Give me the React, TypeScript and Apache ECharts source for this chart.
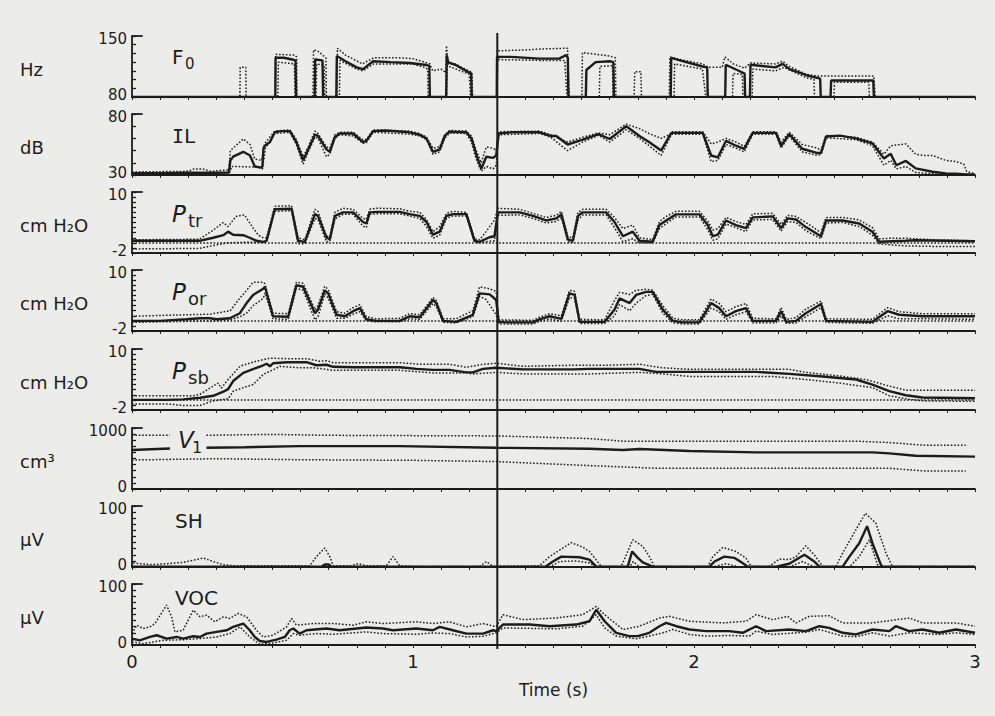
import React, { useEffect, useRef } from "react";
import * as echarts from "echarts";

// ---------- data (time in s, value) ----------
const X_TICK_LABELS = [0, 1, 2, 3];
const MARKER_TIME = 1.3;

const F0_MEAN = [[0,80],[0.51,80],[0.511,125],[0.54,125],[0.57,123],[0.582,122],[0.584,80],[0.65,80],[0.652,123],[0.678,122],[0.68,80],[0.727,80],[0.729,127],[0.76,121],[0.80,114],[0.822,112],[0.858,121],[0.92,120],[0.99,119],[1.04,117],[1.058,116],[1.06,80],[1.118,80],[1.12,128],[1.125,120],[1.15,117],[1.20,108],[1.207,107],[1.209,80],[1.298,80],[1.299,126],[1.35,126],[1.45,124],[1.52,124],[1.545,128],[1.551,125],[1.553,80],[1.615,80],[1.617,111],[1.65,120],[1.70,121],[1.713,120],[1.715,80],[1.917,80],[1.919,125],[1.95,122],[2.03,115],[2.047,114],[2.049,80],[2.111,80],[2.113,117],[2.18,107],[2.182,80],[2.199,80],[2.201,117],[2.29,114],[2.315,118],[2.34,112],[2.40,105],[2.449,101],[2.451,80],[2.486,80],[2.488,99],[2.55,99],[2.638,99],[2.640,80],[3,80]];
const F0_UPPER = [[0,80],[0.384,80],[0.385,114],[0.405,114],[0.406,80],[0.510,80],[0.511,129],[0.58,128],[0.586,126],[0.587,80],[0.644,80],[0.646,134],[0.66,133],[0.69,125],[0.692,80],[0.729,80],[0.731,136],[0.76,128],[0.82,118],[0.86,125],[0.95,125],[1.0,124],[1.04,120],[1.06,118],[1.07,110],[1.10,112],[1.117,108],[1.119,139],[1.125,118],[1.15,118],[1.205,109],[1.21,108],[1.212,80],[1.298,80],[1.300,133],[1.40,134],[1.45,135],[1.55,136],[1.556,80],[1.601,80],[1.603,131],[1.70,127],[1.72,125],[1.722,80],[1.787,80],[1.789,109],[1.811,109],[1.813,80],[1.912,80],[1.914,126],[1.95,123],[2.03,118],[2.05,114],[2.10,114],[2.11,126],[2.14,118],[2.18,113],[2.20,119],[2.29,118],[2.315,121],[2.34,115],[2.40,106],[2.44,104],[2.50,104],[2.64,104],[2.645,80],[3,80]];
const F0_LOWER = [[0,80],[0.519,80],[0.521,120],[0.578,118],[0.580,80],[0.655,80],[0.657,118],[0.684,116],[0.686,80],[0.738,80],[0.740,122],[0.80,112],[0.822,110],[0.86,118],[1.0,118],[1.04,114],[1.052,112],[1.054,80],[1.12,80],[1.122,116],[1.20,106],[1.205,80],[1.299,80],[1.301,123],[1.45,122],[1.54,122],[1.548,80],[1.663,80],[1.665,115],[1.71,116],[1.712,80],[1.929,80],[1.931,118],[2.03,112],[2.042,80],[2.137,80],[2.139,107],[2.172,106],[2.174,80],[2.207,80],[2.209,112],[2.29,110],[2.32,114],[2.40,102],[2.427,100],[2.429,80],[2.498,80],[2.500,97],[2.622,97],[2.624,80],[3,80]];

const IL_MEAN = [[0,31.5],[0.1,31.5],[0.2,31.8],[0.3,31.8],[0.345,32],[0.35,42],[0.36,45],[0.396,49],[0.42,46],[0.437,37],[0.461,36],[0.464,37],[0.468,52],[0.473,54],[0.491,57],[0.508,65],[0.53,66],[0.562,66],[0.585,57],[0.609,42],[0.627,51],[0.651,63],[0.662,62],[0.692,51],[0.704,49],[0.722,61],[0.739,64],[0.787,64],[0.822,57],[0.834,58],[0.858,66],[0.90,66.5],[0.988,65],[1.024,63],[1.048,60],[1.071,49],[1.095,51],[1.113,62],[1.13,65.5],[1.19,65],[1.208,60],[1.225,47],[1.243,35],[1.261,45],[1.285,44],[1.296,46],[1.305,64],[1.35,65],[1.45,65],[1.49,62],[1.51,62],[1.55,55],[1.604,59],[1.66,63.5],[1.70,59.5],[1.759,70],[1.806,62],[1.84,57],[1.883,50],[1.913,62],[1.92,64.5],[2.031,64.5],[2.061,46],[2.085,44.5],[2.114,58],[2.149,54],[2.179,51.5],[2.209,64.5],[2.292,64.5],[2.310,54],[2.339,63.5],[2.385,51.5],[2.44,48],[2.452,48],[2.470,61.5],[2.52,62.3],[2.576,60],[2.635,56],[2.676,43.5],[2.70,47.5],[2.72,38],[2.754,41.5],[2.789,35.4],[2.849,32.7],[2.896,31.3],[2.932,31],[2.967,30.5],[3,30.5]];
const IL_UPPER = [[0,32.5],[0.2,33],[0.22,35],[0.25,35],[0.28,33],[0.33,34],[0.345,34],[0.35,50],[0.396,59.6],[0.42,55],[0.437,43],[0.461,42],[0.464,45],[0.473,56],[0.508,66],[0.562,67],[0.585,59],[0.609,45],[0.627,53],[0.651,66],[0.662,64],[0.692,53],[0.704,52],[0.722,63],[0.739,65],[0.787,65],[0.822,59],[0.834,59],[0.858,67],[0.988,66],[1.024,64],[1.048,61],[1.071,52],[1.095,53],[1.113,63],[1.13,66.5],[1.19,66],[1.208,62],[1.225,50],[1.243,40],[1.261,53],[1.285,52],[1.296,50],[1.305,65.5],[1.45,66],[1.49,63],[1.55,57],[1.604,61],[1.66,64.5],[1.70,63],[1.759,71.7],[1.806,68],[1.84,64],[1.883,60],[1.913,63],[1.92,65.5],[2.031,65.5],[2.061,55.5],[2.085,57],[2.114,60],[2.149,57],[2.179,53.5],[2.209,65.5],[2.292,65.5],[2.310,57],[2.339,65],[2.385,55],[2.44,52],[2.452,50],[2.470,62.5],[2.576,61],[2.635,57],[2.676,47],[2.70,54],[2.754,55.5],[2.789,47],[2.82,46],[2.849,46],[2.896,42],[2.932,41],[2.96,39],[2.97,33],[3,31]];
const IL_LOWER = [[0,30.5],[0.345,30.5],[0.355,37],[0.45,36.5],[0.461,35],[0.464,35],[0.475,52],[0.508,64],[0.562,65],[0.585,55],[0.609,39],[0.627,49],[0.651,61],[0.662,60],[0.692,45],[0.704,47],[0.722,60],[0.739,63],[0.787,62],[0.822,56],[0.834,56.5],[0.858,65],[0.988,63.5],[1.024,62],[1.048,59],[1.071,47],[1.095,49],[1.113,60],[1.13,64.5],[1.19,64],[1.208,57],[1.225,43],[1.243,33],[1.261,37],[1.285,35],[1.296,38],[1.305,63],[1.45,64],[1.49,61],[1.55,50],[1.604,57],[1.66,62.5],[1.70,57],[1.759,67],[1.806,60],[1.84,54],[1.883,46],[1.913,60],[1.92,63.5],[2.031,63.5],[2.061,41],[2.085,42],[2.114,55],[2.149,52],[2.179,49],[2.209,63.5],[2.292,63.5],[2.310,52],[2.339,62],[2.385,49],[2.44,46],[2.452,47],[2.470,60.5],[2.576,59],[2.635,54],[2.676,38],[2.70,42],[2.72,35],[2.754,37],[2.789,32],[2.849,31],[2.896,30.5],[3,30.3]];

const PTR_MEAN = [[0,0.4],[0.24,0.4],[0.289,1.0],[0.325,1.5],[0.342,2.2],[0.36,1.6],[0.396,1.5],[0.419,1.0],[0.443,0.4],[0.467,0.2],[0.479,0.4],[0.508,6.6],[0.568,6.7],[0.591,0.4],[0.615,0.2],[0.651,5.65],[0.662,5.3],[0.692,1.0],[0.704,0.7],[0.722,5.3],[0.751,6.0],[0.787,6.0],[0.822,4.1],[0.834,3.8],[0.846,6.0],[0.87,6.1],[0.953,6.1],[0.988,5.65],[1.024,5.3],[1.048,4.1],[1.071,1.6],[1.095,2.2],[1.119,5.3],[1.142,5.65],[1.19,5.65],[1.219,0.4],[1.237,0.2],[1.272,1.1],[1.29,1.3],[1.302,6.0],[1.38,6.0],[1.427,5.3],[1.474,4.4],[1.51,4.8],[1.528,5.6],[1.551,0.7],[1.569,0.4],[1.587,5.3],[1.604,6.0],[1.687,6.0],[1.717,4.1],[1.747,1.3],[1.782,2.2],[1.806,0.4],[1.853,0.2],[1.877,3.5],[1.901,4.4],[1.936,5.6],[2.019,5.6],[2.049,3.5],[2.067,1.3],[2.085,1.6],[2.114,4.4],[2.149,3.5],[2.185,2.9],[2.209,5.0],[2.28,5.2],[2.31,2.9],[2.333,4.8],[2.363,4.6],[2.398,3.1],[2.452,1.3],[2.47,4.4],[2.529,4.4],[2.588,3.8],[2.635,2.2],[2.659,0.2],[2.754,0.4],[2.789,0.5],[3.0,0.3]];
const PTR_UPPER = [[0,0.6],[0.24,0.7],[0.289,2.5],[0.325,4.0],[0.342,3.2],[0.37,5.2],[0.40,5.5],[0.43,3.0],[0.45,1.5],[0.467,1.0],[0.479,1.0],[0.508,7.2],[0.568,7.3],[0.591,1.0],[0.615,0.6],[0.651,6.6],[0.662,6.2],[0.692,1.3],[0.704,1.2],[0.722,6.0],[0.751,6.8],[0.787,6.6],[0.822,4.8],[0.834,4.6],[0.846,6.6],[0.87,6.8],[0.953,6.7],[0.988,6.2],[1.024,6.0],[1.048,4.6],[1.071,2.2],[1.095,3.2],[1.119,5.8],[1.142,6.2],[1.19,6.0],[1.219,0.8],[1.237,0.6],[1.26,2.2],[1.29,4.5],[1.302,6.8],[1.38,6.6],[1.427,5.8],[1.474,5.0],[1.51,5.4],[1.528,6.2],[1.551,1.2],[1.569,1.0],[1.587,6.0],[1.604,6.6],[1.687,6.6],[1.717,5.0],[1.747,2.8],[1.782,3.5],[1.806,1.0],[1.853,0.6],[1.877,4.2],[1.901,5.2],[1.936,6.2],[2.019,6.2],[2.049,4.3],[2.067,2.5],[2.085,2.8],[2.114,5.0],[2.149,4.2],[2.185,3.6],[2.209,5.7],[2.28,5.8],[2.31,3.6],[2.333,5.4],[2.363,5.2],[2.398,4.0],[2.452,2.0],[2.47,5.0],[2.529,5.0],[2.588,4.5],[2.635,3.0],[2.659,0.8],[2.70,0.9],[2.754,0.9],[2.85,0.6],[3.0,0.4]];
const PTR_LOWER = [[0,-1.2],[0.24,-1.1],[0.30,-0.4],[0.34,0],[0.40,0.1],[0.45,0.1],[0.479,0.2],[0.508,6.2],[0.568,6.3],[0.591,-0.2],[0.615,-0.2],[0.651,4.8],[0.662,4.6],[0.692,0.2],[0.704,0.3],[0.722,4.7],[0.751,5.6],[0.787,5.6],[0.822,3.3],[0.834,3.0],[0.846,5.6],[0.87,5.7],[0.953,5.7],[0.988,5.3],[1.024,4.8],[1.048,3.2],[1.071,0.9],[1.095,1.5],[1.119,4.8],[1.142,5.3],[1.19,5.3],[1.219,0.1],[1.237,0.0],[1.27,0.3],[1.29,0.4],[1.302,5.4],[1.38,5.5],[1.427,4.8],[1.474,3.9],[1.51,4.2],[1.528,5.0],[1.551,0.2],[1.569,0.1],[1.587,4.5],[1.604,5.5],[1.687,5.5],[1.717,3.0],[1.747,0.2],[1.782,0.8],[1.806,0.0],[1.853,0.0],[1.877,2.8],[1.901,3.8],[1.936,5.1],[2.019,5.1],[2.049,2.6],[2.067,0.5],[2.085,0.8],[2.114,3.7],[2.149,3.0],[2.185,2.2],[2.209,4.5],[2.28,4.6],[2.31,2.3],[2.333,4.2],[2.363,4.0],[2.398,2.4],[2.452,0.8],[2.47,3.9],[2.529,4.0],[2.588,3.2],[2.635,1.5],[2.659,-0.2],[2.70,-0.4],[2.754,-0.6],[2.85,-0.7],[3.0,-0.7]];

const POR_MEAN = [[0,0.0],[0.1,0.0],[0.194,0.3],[0.242,0.5],[0.277,0.5],[0.301,0.3],[0.348,0.5],[0.384,1.5],[0.408,3.5],[0.431,5.1],[0.467,6.3],[0.473,6.7],[0.502,0.9],[0.556,0.8],[0.585,7.0],[0.609,6.7],[0.651,1.5],[0.662,2.2],[0.686,6.0],[0.698,5.4],[0.728,1.2],[0.757,0.9],[0.787,1.9],[0.811,2.5],[0.834,0.3],[0.87,0.0],[0.953,0.0],[0.988,0.9],[1.024,0.7],[1.071,4.1],[1.083,3.5],[1.107,0.0],[1.154,-0.2],[1.213,1.2],[1.237,5.4],[1.273,5.2],[1.296,4.1],[1.305,-0.2],[1.332,-0.3],[1.427,-0.3],[1.45,0.3],[1.486,0.9],[1.528,0.4],[1.557,5.4],[1.575,5.1],[1.593,-0.2],[1.682,-0.2],[1.717,2.2],[1.735,4.4],[1.771,3.5],[1.794,5.1],[1.83,5.7],[1.853,5.7],[1.889,2.2],[1.925,0.0],[1.96,-0.3],[2.019,-0.3],[2.061,3.5],[2.09,2.5],[2.114,0.9],[2.149,1.9],[2.185,2.5],[2.209,0.0],[2.292,0.0],[2.31,1.9],[2.328,-0.2],[2.363,0.0],[2.398,1.5],[2.452,3.3],[2.47,0.0],[2.635,-0.2],[2.689,1.9],[2.73,1.2],[2.813,0.9],[3.0,0.9]];
const POR_UPPER = [[0,0.9],[0.194,1.2],[0.277,1.3],[0.35,2.0],[0.384,4.5],[0.408,6.0],[0.431,7.6],[0.467,7.6],[0.473,7.3],[0.502,1.5],[0.556,1.4],[0.585,7.6],[0.609,7.4],[0.651,2.2],[0.662,3.0],[0.686,6.8],[0.698,6.2],[0.728,1.8],[0.757,1.5],[0.787,2.6],[0.811,3.2],[0.834,0.8],[0.87,0.4],[0.953,0.5],[0.988,1.4],[1.024,1.2],[1.071,4.6],[1.083,4.0],[1.107,0.4],[1.154,0.4],[1.213,2.0],[1.237,6.7],[1.273,6.3],[1.296,5.8],[1.305,0.2],[1.427,0.1],[1.45,0.7],[1.486,1.4],[1.528,1.0],[1.557,6.0],[1.575,5.8],[1.593,0.3],[1.682,0.2],[1.717,4.0],[1.735,5.6],[1.771,5.2],[1.794,6.0],[1.83,6.2],[1.853,6.0],[1.889,3.0],[1.925,0.5],[1.96,0.2],[2.019,0.2],[2.061,4.3],[2.09,3.4],[2.114,1.8],[2.149,2.8],[2.185,3.4],[2.209,0.5],[2.292,0.4],[2.31,2.6],[2.328,0.3],[2.363,0.6],[2.398,2.3],[2.452,3.9],[2.47,0.4],[2.635,0.3],[2.689,2.6],[2.73,1.8],[2.813,1.4],[3.0,1.4]];
const POR_LOWER = [[0,-0.3],[0.3,0.0],[0.35,0.2],[0.384,0.8],[0.408,1.5],[0.431,3.0],[0.467,4.4],[0.473,5.5],[0.502,0.4],[0.556,0.3],[0.585,6.4],[0.609,6.0],[0.651,0.2],[0.662,0.8],[0.686,5.3],[0.698,4.5],[0.728,0.5],[0.757,0.5],[0.787,1.3],[0.811,1.8],[0.834,0.0],[0.87,-0.2],[0.953,-0.2],[0.988,0.4],[1.024,0.3],[1.071,3.4],[1.083,2.8],[1.107,-0.3],[1.154,-0.4],[1.213,0.8],[1.237,4.8],[1.26,4.2],[1.296,1.2],[1.305,-0.6],[1.427,-0.6],[1.45,-0.1],[1.486,0.4],[1.528,-0.1],[1.557,4.6],[1.575,4.4],[1.593,-0.5],[1.682,-0.5],[1.717,1.0],[1.735,3.2],[1.771,2.0],[1.794,3.5],[1.83,5.0],[1.853,5.2],[1.889,1.5],[1.925,-0.4],[1.96,-0.6],[2.019,-0.6],[2.061,2.5],[2.09,1.8],[2.114,0.3],[2.149,1.2],[2.185,1.8],[2.209,-0.4],[2.292,-0.4],[2.31,1.0],[2.328,-0.5],[2.363,-0.4],[2.398,0.8],[2.452,2.6],[2.47,-0.3],[2.635,-0.5],[2.689,1.0],[2.73,0.4],[2.813,0.4],[3.0,0.3]];

const PSB_MEAN = [[0,0.0],[0.123,0.0],[0.182,0.1],[0.242,0.4],[0.289,0.8],[0.325,1.6],[0.342,2.1],[0.36,3.7],[0.396,5.3],[0.443,6.3],[0.467,6.8],[0.479,7.1],[0.491,6.6],[0.502,7.2],[0.55,7.4],[0.621,7.4],[0.656,6.8],[0.692,6.9],[0.716,6.5],[0.787,6.4],[0.953,6.4],[1.012,6.1],[1.071,5.9],[1.13,5.9],[1.19,5.4],[1.213,5.4],[1.249,6.1],[1.296,6.3],[1.391,6.0],[1.569,6.0],[1.628,6.1],[1.806,6.1],[1.865,5.5],[2.221,5.5],[2.339,5.1],[2.458,4.6],[2.576,4.0],[2.635,3.0],[2.695,1.7],[2.754,0.9],[2.813,0.45],[3.0,0.3]];
const PSB_UPPER = [[0,0.8],[0.218,0.8],[0.242,1.1],[0.289,2.7],[0.306,3.3],[0.318,2.3],[0.342,4.0],[0.384,6.6],[0.443,7.6],[0.491,8.2],[0.55,8.1],[0.621,8.1],[0.668,7.6],[0.692,7.7],[0.716,7.3],[0.953,7.3],[1.024,7.0],[1.13,7.0],[1.19,6.4],[1.249,7.0],[1.296,7.2],[1.391,6.6],[1.569,6.8],[1.687,6.8],[1.747,6.9],[1.806,7.0],[1.889,6.3],[1.984,6.0],[2.339,6.0],[2.398,5.4],[2.517,4.7],[2.612,4.0],[2.695,2.7],[2.754,1.9],[3.0,1.9]];
const PSB_LOWER = [[0,-0.8],[0.123,-0.8],[0.182,-1.1],[0.242,-1.1],[0.289,-0.2],[0.342,0.2],[0.36,1.7],[0.396,2.4],[0.431,3.0],[0.467,5.0],[0.502,5.9],[0.526,6.6],[0.597,6.3],[0.645,6.3],[0.692,6.0],[0.716,5.8],[0.953,5.8],[1.071,5.3],[1.19,5.3],[1.213,5.1],[1.296,5.4],[1.391,5.1],[1.628,5.1],[1.806,5.4],[1.889,5.1],[1.984,4.6],[2.28,4.6],[2.398,4.0],[2.517,3.3],[2.635,2.4],[2.695,0.8],[2.766,0.1],[2.813,-0.2],[3.0,-0.3]];

const V1_MEAN = [[0,640],[0.135,665],[0.14,"-"],[0.265,676],[0.40,685],[0.597,703],[0.953,703],[1.296,676],[1.628,660],[1.747,640],[1.806,655],[1.984,622],[2.221,600],[2.635,600],[2.695,584],[2.789,546],[3.0,530]];
const V1_UPPER = [[0,881],[0.135,881],[0.14,"-"],[0.265,881],[0.5,895],[0.7,880],[1.296,870],[1.628,827],[1.747,784],[2.576,784],[2.695,762],[2.813,719],[2.967,719]];
const V1_LOWER = [[0,476],[0.3,497],[0.6,480],[1.0,470],[1.296,449],[1.628,384],[1.865,340],[2.695,340],[2.813,297],[2.967,297]];

const SH_MEAN = [[0,0.5],[0.674,0.5],[0.686,4],[0.700,4],[0.710,0.5],[1.471,0.5],[1.498,9],[1.528,17],[1.593,16],[1.628,12],[1.652,0.5],[1.764,0.5],[1.78,25.5],[1.80,15],[1.818,7.6],[1.853,0.5],[2.055,0.5],[2.073,9],[2.108,17],[2.143,15],[2.173,6.5],[2.191,0.5],[2.292,0.5],[2.339,5.4],[2.363,12],[2.393,20],[2.428,9],[2.446,0.5],[2.529,0.5],[2.553,17],[2.588,39],[2.616,67],[2.635,39],[2.665,3.8],[2.671,0.5],[3,0.5]];
const SH_UPPER = [[0,1],[0.005,6.5],[0.064,3.8],[0.123,5.4],[0.182,7.6],[0.254,14.7],[0.289,9],[0.325,3.8],[0.36,2],[0.633,2],[0.656,17],[0.686,31],[0.704,17],[0.716,2],[0.78,2],[0.805,5.4],[0.834,2],[0.905,2],[0.929,17],[0.953,2],[1.0,1],[1.237,1],[1.261,9],[1.285,1],[1.45,2],[1.486,17],[1.533,31],[1.563,40],[1.604,32.6],[1.628,25.5],[1.670,1],[1.741,1],[1.759,20],[1.782,44.6],[1.818,33.7],[1.841,17.4],[1.859,1],[2.049,1],[2.067,17],[2.102,32],[2.149,25.5],[2.185,14.7],[2.203,1],[2.268,1],[2.304,13],[2.339,12],[2.363,17],[2.398,34.8],[2.428,20],[2.458,1],[2.505,1],[2.529,22.8],[2.576,61],[2.610,88],[2.647,72],[2.683,22.8],[2.706,1],[3,1]];
const SH_LOWER = [[0,0],[0.67,0],[0.69,3.8],[0.70,0],[1.486,0],[1.522,9],[1.581,10],[1.628,6.5],[1.652,0],[1.770,0],[1.784,9],[1.806,0],[2.067,0],[2.114,5.4],[2.161,0],[2.339,0],[2.387,9],[2.410,3.8],[2.434,0],[2.553,0],[2.588,17],[2.624,44.6],[2.653,3.8],[2.665,0],[3,0]];

const VOC_MEAN = [[0,10.5],[0.028,7.7],[0.064,13.2],[0.088,16],[0.123,10.5],[0.159,13.2],[0.182,10.5],[0.218,14.3],[0.242,13.2],[0.265,18.7],[0.301,21.5],[0.337,24.2],[0.36,29.7],[0.396,35.2],[0.419,24.2],[0.437,13.2],[0.455,6.6],[0.479,5],[0.514,8.8],[0.544,13.2],[0.561,24.2],[0.574,27],[0.597,18.7],[0.621,24.2],[0.692,27],[0.739,24.2],[0.834,28.6],[0.893,27],[0.929,24.2],[1.012,27],[1.071,24.2],[1.095,29.7],[1.142,24.2],[1.19,18.7],[1.249,18.7],[1.285,24.2],[1.296,22.7],[1.32,33.5],[1.415,33.5],[1.486,30.8],[1.581,33.5],[1.628,38.9],[1.652,57.8],[1.682,38.9],[1.723,20],[1.770,14.6],[1.800,14.6],[1.841,20],[1.877,30.8],[1.901,36.2],[1.937,30.8],[1.984,25.4],[2.043,22.7],[2.126,22.7],[2.173,20],[2.221,30.8],[2.256,22.7],[2.339,25.4],[2.398,22.7],[2.446,30.8],[2.481,28],[2.529,20],[2.576,17.3],[2.635,25.4],[2.695,22.7],[2.718,30.8],[2.766,22.7],[2.813,25.4],[2.872,20],[2.932,25.4],[3.0,20]];
const VOC_UPPER = [[0,18.7],[0.017,32.5],[0.04,27],[0.064,29.7],[0.082,35.2],[0.123,65.5],[0.141,46.2],[0.153,21.5],[0.182,24.2],[0.218,57.2],[0.242,46.2],[0.265,49],[0.295,38],[0.325,46.2],[0.348,43.5],[0.378,51.7],[0.408,46.2],[0.443,24.2],[0.467,13.2],[0.502,16],[0.550,29.7],[0.568,43.5],[0.585,32.5],[0.645,35.2],[0.716,35.2],[0.787,32.5],[0.834,38],[0.893,35.2],[1.012,38],[1.071,35.2],[1.13,38],[1.19,29.7],[1.249,35.2],[1.296,30],[1.32,49.7],[1.391,41.6],[1.51,44.3],[1.604,49.7],[1.652,63.2],[1.682,49.7],[1.747,25.4],[1.806,30.8],[1.877,44.3],[1.913,47],[1.984,38.9],[2.102,36.2],[2.185,38.9],[2.221,49.7],[2.28,41.6],[2.333,47],[2.363,36.2],[2.41,47],[2.481,48],[2.529,36.2],[2.635,36.2],[2.766,44.3],[2.813,36.2],[2.932,36.2],[3.0,30.8]];
const VOC_LOWER = [[0,5],[0.04,2.2],[0.076,5],[0.111,7.7],[0.182,8.8],[0.242,10.5],[0.301,13.2],[0.348,18.7],[0.384,29.7],[0.419,13.2],[0.443,5],[0.455,1.1],[0.502,3.3],[0.55,7.7],[0.574,18.7],[0.597,16],[0.656,18.7],[0.716,17.6],[0.834,21.5],[0.893,18.7],[1.012,17.6],[1.071,19.8],[1.13,18.7],[1.19,13.2],[1.249,14.3],[1.296,20],[1.32,28],[1.51,26.5],[1.604,30.8],[1.652,49.7],[1.682,28],[1.723,14.6],[1.794,10.3],[1.841,14.6],[1.889,20],[1.925,25.4],[1.984,17.3],[2.043,14.6],[2.126,15.7],[2.197,14.6],[2.221,22.7],[2.28,17.3],[2.398,21],[2.446,25.4],[2.529,14.6],[2.576,13.5],[2.635,20],[2.695,14.6],[2.766,20],[2.872,17.3],[2.932,20],[3.0,17.3]];

// ---------- layout / style ----------
const INK = "#1c1c1c";
const BG = "#ececea";
const FONT = "DejaVu Sans";
const GRID_LEFT = 132;
const GRID_RIGHT = 20;
const GRID_TOPS = [36, 114, 192, 270, 349, 428, 506, 584];
const GRID_H = 61;

const PANELS = [
  { unit: "Hz", min: 80, max: 150, step: 10, mean: F0_MEAN, upper: F0_UPPER, lower: F0_LOWER, zero: false },
  { unit: "dB", min: 30, max: 80, step: 10, mean: IL_MEAN, upper: IL_UPPER, lower: IL_LOWER, zero: false },
  { unit: "cm H₂O", min: -2, max: 10, step: 1, mean: PTR_MEAN, upper: PTR_UPPER, lower: PTR_LOWER, zero: true },
  { unit: "cm H₂O", min: -2, max: 10, step: 1, mean: POR_MEAN, upper: POR_UPPER, lower: POR_LOWER, zero: true },
  { unit: "cm H₂O", min: -2, max: 10, step: 1, mean: PSB_MEAN, upper: PSB_UPPER, lower: PSB_LOWER, zero: true },
  { unit: "cm³", min: 0, max: 1000, step: 100, mean: V1_MEAN, upper: V1_UPPER, lower: V1_LOWER, zero: false },
  { unit: "μV", min: 0, max: 100, step: 10, mean: SH_MEAN, upper: SH_UPPER, lower: SH_LOWER, zero: false },
  { unit: "μV", min: 0, max: 100, step: 10, mean: VOC_MEAN, upper: VOC_UPPER, lower: VOC_LOWER, zero: false },
];

// panel titles: main text, subscript, offsets within panel
const TITLES = [
  { main: "F", sub: "0", italic: false, dy: 11, subDx: 13, subDy: 9, size: 20, subSize: 15, dx: 0 },
  { main: "IL", sub: "", italic: false, dy: 12, subDx: 0, subDy: 0, size: 20, subSize: 15, dx: 0, mono: true },
  { main: "P", sub: "tr", italic: true, dy: 10, subDx: 16, subDy: 9, size: 23, subSize: 18, dx: 0 },
  { main: "P", sub: "or", italic: true, dy: 10, subDx: 16, subDy: 9, size: 23, subSize: 18, dx: 0 },
  { main: "P", sub: "sb", italic: true, dy: 10, subDx: 16, subDy: 9, size: 23, subSize: 18, dx: 0 },
  { main: "V", sub: "1", italic: true, dy: 0, subDx: 14, subDy: 11, size: 23, subSize: 16, dx: 6 },
  { main: "SH", sub: "", italic: false, dy: 5, subDx: 0, subDy: 0, size: 20, subSize: 15, dx: 3 },
  { main: "VOC", sub: "", italic: false, dy: 4, subDx: 0, subDy: 0, size: 20, subSize: 15, dx: 3 },
];

export default function App() {
  const ref = useRef<HTMLDivElement>(null);

  useEffect(() => {
    if (!ref.current) return;
    const chart = echarts.init(ref.current, undefined, { renderer: "svg" });

    const grid = PANELS.map((_, i) => ({
      left: GRID_LEFT,
      right: GRID_RIGHT,
      top: GRID_TOPS[i],
      height: GRID_H,
    }));

    const last = PANELS.length - 1;
    const xAxis = PANELS.map((_, i) => ({
      type: "value",
      gridIndex: i,
      min: 0,
      max: 3,
      interval: 0.1,
      axisLine: { show: true, onZero: false, lineStyle: { color: INK, width: 1.8 } },
      axisTick: { show: true, length: 3, lineStyle: { color: INK, width: 1 } },
      splitLine: { show: false },
      axisLabel: {
        show: i === last,
        margin: 7,
        color: INK,
        fontSize: 18,
        fontFamily: FONT,
        formatter: (v: number) => {
          const r = Math.round(v);
          return Math.abs(v - r) < 1e-6 && X_TICK_LABELS.includes(r) ? String(r) : "";
        },
      },
      name: i === last ? "Time (s)" : "",
      nameLocation: "middle",
      nameGap: 36,
      nameTextStyle: { color: INK, fontSize: 17, fontFamily: FONT },
    }));

    const labelRich = {
      hi: { fontSize: 15, fontFamily: FONT, color: INK, padding: [5, 0, 0, 0] },
      lo: { fontSize: 15, fontFamily: FONT, color: INK, padding: [0, 0, 5, 0] },
    };
    const yAxis = PANELS.map((p, i) => ({
      type: "value",
      gridIndex: i,
      min: p.min,
      max: p.max,
      interval: p.step,
      axisLine: { show: true, onZero: false, lineStyle: { color: INK, width: 1.8 } },
      axisTick: { show: true, inside: true, length: 4, lineStyle: { color: INK, width: 1.3 } },
      splitLine: { show: false },
      axisLabel: {
        margin: 5,
        color: INK,
        fontSize: 15,
        fontFamily: FONT,
        rich: labelRich,
        formatter: (v: number) =>
          v === p.max ? `{hi|${v}}` : v === p.min ? `{lo|${v}}` : "",
      },
    }));

    const series: any[] = [];
    PANELS.forEach((p, i) => {
      const dotted = { color: INK, width: 1.5, type: [1.6, 1.8] as any };
      series.push({
        type: "line", xAxisIndex: i, yAxisIndex: i, data: p.lower, symbol: "none",
        lineStyle: dotted, silent: true, z: 2,
      });
      series.push({
        type: "line", xAxisIndex: i, yAxisIndex: i, data: p.upper, symbol: "none",
        lineStyle: dotted, silent: true, z: 2,
      });
      const markData: any[] = [
        [
          { coord: [0, p.max], lineStyle: { type: "solid", width: 1.8, color: INK } },
          { coord: [0.038, p.max] },
        ],
      ];
      if (p.zero) {
        markData.push({ yAxis: 0, lineStyle: { type: [1.6, 1.8], width: 1.5, color: INK } });
      }
      series.push({
        type: "line", xAxisIndex: i, yAxisIndex: i, data: p.mean, symbol: "none",
        lineStyle: { color: INK, width: 2.4 }, silent: true, z: 3,
        markLine: {
          silent: true,
          symbol: ["none", "none"],
          label: { show: false },
          animation: false,
          data: markData,
        },
      });
    });

    const graphic: any[] = [];
    PANELS.forEach((p, i) => {
      graphic.push({
        type: "text",
        left: 20,
        top: GRID_TOPS[i] + GRID_H / 2 - 6,
        style: { text: p.unit, fill: INK, fontSize: 18, fontFamily: FONT },
      });
      const t = TITLES[i];
      const x0 = 172 + t.dx;
      graphic.push({
        type: "text",
        left: x0,
        top: GRID_TOPS[i] + t.dy,
        style: {
          text: t.main,
          fill: INK,
          fontSize: t.size,
          fontStyle: t.italic ? "italic" : "normal",
          fontFamily: (t as any).mono ? "DejaVu Sans Mono" : FONT,
        },
      });
      if (t.sub) {
        graphic.push({
          type: "text",
          left: x0 + t.subDx,
          top: GRID_TOPS[i] + t.dy + t.subDy,
          style: { text: t.sub, fill: INK, fontSize: t.subSize, fontFamily: FONT },
        });
      }
    });

    chart.setOption({
      animation: false,
      backgroundColor: BG,
      grid,
      xAxis,
      yAxis,
      series,
      graphic: { elements: graphic },
    });

    const top = chart.convertToPixel({ xAxisIndex: 0, yAxisIndex: 0 }, [MARKER_TIME, PANELS[0].max]);
    const bot = chart.convertToPixel({ xAxisIndex: last, yAxisIndex: last }, [MARKER_TIME, PANELS[last].min]);
    if (top && bot) {
      chart.setOption({
        graphic: {
          elements: [
            ...graphic,
            {
              type: "line",
              shape: { x1: top[0], y1: top[1] - 3, x2: bot[0], y2: bot[1] + 4 },
              style: { stroke: INK, lineWidth: 2 },
              z: 10,
            },
          ],
        },
      });
    }

    return () => chart.dispose();
  }, []);

  return (
    <div
      ref={ref}
      style={{ position: "absolute", left: 0, top: 0, width: 995, height: 716, background: BG }}
    />
  );
}
